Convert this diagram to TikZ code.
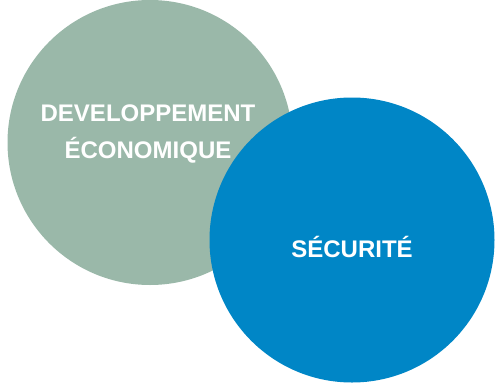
\documentclass[tikz,border=0pt]{standalone}
\usepackage{fontspec}
\setmainfont{Liberation Sans}
\definecolor{sage}{RGB}{154,184,169}
\definecolor{ocean}{RGB}{0,134,198}

\begin{document}
\begin{tikzpicture}[%
x=1pt,y=1pt,
bubble/.style={circle,inner sep=0pt,minimum size=285pt},
bubbletext/.style={text=white,font=\bfseries\fontsize{24}{37}\selectfont,align=center,inner sep=0pt},
]
\useasboundingbox (0,0) rectangle (501,-389);
%% circle;
\node [bubble,fill=sage] (eco) at (150,-142.5) {};
%% label;
\node [bubbletext,anchor=base] (ecotext) at (148,-158) {DEVELOPPEMENT\\ÉCONOMIQUE};
%% circle;
\node [bubble,fill=ocean] (secu) at (352,-240) {};
%% label;
\node [bubbletext,anchor=base] (secutext) at (352,-257) {SÉCURITÉ};
\end{tikzpicture}
\end{document}
